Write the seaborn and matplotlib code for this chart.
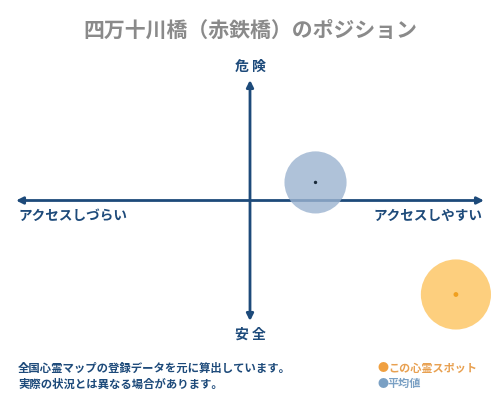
import pandas as pd
import seaborn as sns
import matplotlib.pyplot as plt

# values (axis range -1..1 in both directions)
labels = ["平均値", "この心霊スポット"]
access = [0.28, 0.88]
danger = [0.15, -0.78]
sizes = [2000, 2550]

df = pd.DataFrame({"label": labels, "access": access, "danger": danger, "size": sizes})

sns.set_theme(style="white")
plt.rcParams['font.family'] = ['Noto Sans CJK JP', 'DejaVu Sans']

navy = "#1d4a7a"
fig = plt.figure(figsize=(5, 4), dpi=100)
# plot area in pixel coords: x 16..484, y 80..321
ax = fig.add_axes([16 / 500, 1 - 321 / 400, 468 / 500, 241 / 400])
ax.set_xlim(-1, 1)
ax.set_ylim(-1, 1)
ax.axis("off")

# axes arrows
ax.annotate("", xy=(1, 0), xytext=(-1, 0),
            arrowprops=dict(arrowstyle="<|-|>", color=navy, lw=2, mutation_scale=10, shrinkA=0, shrinkB=0))
ax.annotate("", xy=(0, 1), xytext=(0, -1),
            arrowprops=dict(arrowstyle="<|-|>", color=navy, lw=2, mutation_scale=10, shrinkA=0, shrinkB=0))

colors = {"平均値": "#9bb3d0", "この心霊スポット": "#fdc35e"}
dot_colors = {"平均値": "#1a2a3a", "この心霊スポット": "#f0a020"}
sns.scatterplot(data=df, x="access", y="danger", hue="label", size="size",
                sizes=(min(sizes), max(sizes)), palette=colors, alpha=0.8,
                edgecolor="none", legend=False, ax=ax, zorder=3, clip_on=False)
ax.scatter(df["access"], df["danger"], s=[2, 6],
           c=[dot_colors[l] for l in df["label"]], zorder=4,
           marker="o", clip_on=False)

# axis labels
fig.text(0.5, 1 - 67 / 400, "危 険", ha="center", va="center", color=navy, fontsize=10, fontweight="bold")
fig.text(0.5, 1 - 335 / 400, "安 全", ha="center", va="center", color=navy, fontsize=10, fontweight="bold")
fig.text(18 / 500, 1 - 216 / 400, "アクセスしづらい", ha="left", va="center", color=navy, fontsize=9.8, fontweight="bold")
fig.text(482 / 500, 1 - 216 / 400, "アクセスしやすい", ha="right", va="center", color=navy, fontsize=9.8, fontweight="bold")

# title
fig.text(0.5, 1 - 30 / 400, "四万十川橋（赤鉄橋）のポジション", ha="center", va="center",
         color="#8a8a8a", fontsize=15, fontweight="bold")

# footer notes
fig.text(18 / 500, 1 - 368 / 400, "全国心霊マップの登録データを元に算出しています。", ha="left", va="center",
         color=navy, fontsize=8.2, fontweight="bold")
fig.text(18 / 500, 1 - 384 / 400, "実際の状況とは異なる場合があります。", ha="left", va="center",
         color=navy, fontsize=8.2, fontweight="bold")

# legend
fig.text(377 / 500, 1 - 368 / 400, "●", ha="left", va="center", color="#f0a040", fontsize=8)
fig.text(388 / 500, 1 - 368 / 400, "この心霊スポット", ha="left", va="center", color="#e8a050", fontsize=8, fontweight="bold")
fig.text(377 / 500, 1 - 384 / 400, "●", ha="left", va="center", color="#7aa0c4", fontsize=8)
fig.text(388 / 500, 1 - 384 / 400, "平均値", ha="left", va="center", color="#7aa0c4", fontsize=8, fontweight="bold")

fig.savefig("out.png", dpi=100, facecolor="white")
